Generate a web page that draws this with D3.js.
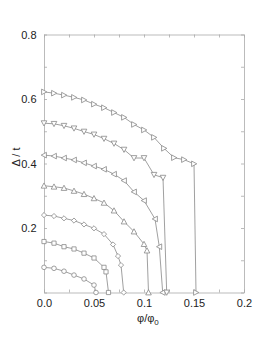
<!DOCTYPE html>
<html>
  <head>
    <title>Gap vs flux</title>
    <script src="https://d3js.org/d3.v7.min.js"></script>
    <style>
      body { margin: 0; background: white; }
      .axis text { font-family: "Liberation Sans", Arial, sans-serif; font-size: 11px; fill: #222; }
      .axis path, .axis line { stroke: #aaa; stroke-width: 0.8; }
      .series path.line { fill: none; stroke: #888; stroke-width: 0.8; }
      .series path.mark { fill: white; stroke: #888; stroke-width: 0.8; }
    </style>
  </head>
  <body>
    <svg width="270" height="348"></svg>
    <script>
      // flux values (phi/phi0) and gap values (Delta/t) for each curve, bottom to top
      var circlePhi = [0, 0.01, 0.02, 0.03, 0.04, 0.05, 0.052];
      var circleGap = [0.078, 0.075, 0.066, 0.054, 0.042, 0.023, 0];

      var squarePhi = [0, 0.01, 0.02, 0.03, 0.04, 0.05, 0.06, 0.062, 0.0645];
      var squareGap = [0.158, 0.153, 0.142, 0.135, 0.122, 0.107, 0.078, 0.064, 0];

      var diamondPhi = [0, 0.01, 0.02, 0.03, 0.04, 0.05, 0.06, 0.069, 0.074, 0.077, 0.0797];
      var diamondGap = [0.240, 0.237, 0.230, 0.223, 0.211, 0.199, 0.181, 0.149, 0.113, 0.085, 0];

      var upPhi = [0, 0.01, 0.02, 0.03, 0.04, 0.05, 0.06, 0.07, 0.08, 0.09, 0.10, 0.103, 0.1045];
      var upGap = [0.331, 0.328, 0.324, 0.315, 0.305, 0.292, 0.278, 0.254, 0.220, 0.189, 0.150, 0.130, 0];

      var leftPhi = [0, 0.01, 0.02, 0.03, 0.04, 0.05, 0.06, 0.07, 0.08, 0.09, 0.10, 0.111, 0.1153, 0.1187];
      var leftGap = [0.426, 0.423, 0.417, 0.411, 0.402, 0.392, 0.382, 0.367, 0.347, 0.312, 0.285, 0.228, 0.142, 0];

      var downPhi = [0, 0.01, 0.02, 0.03, 0.04, 0.05, 0.06, 0.07, 0.08, 0.09, 0.10, 0.11, 0.119, 0.1227];
      var downGap = [0.525, 0.523, 0.517, 0.509, 0.499, 0.490, 0.477, 0.462, 0.443, 0.417, 0.417, 0.365, 0.356, 0];

      var rightPhi = [0, 0.01, 0.02, 0.03, 0.04, 0.05, 0.06, 0.07, 0.08, 0.09, 0.10, 0.11, 0.12, 0.13, 0.14, 0.15, 0.152];
      var rightGap = [0.622, 0.618, 0.612, 0.605, 0.597, 0.584, 0.573, 0.558, 0.543, 0.521, 0.504, 0.481, 0.447, 0.418, 0.412, 0.399, 0];

      var xTicks = [0, 0.025, 0.05, 0.075, 0.1, 0.125, 0.15, 0.175, 0.2];
      var xLabels = { 0: "0.0", 0.05: "0.05", 0.1: "0.1", 0.15: "0.15", 0.2: "0.2" };
      var yTicks = [0, 0.1, 0.2, 0.3, 0.4, 0.5, 0.6, 0.7, 0.8];
      var yLabels = { 0.2: "0.2", 0.4: "0.4", 0.6: "0.6", 0.8: "0.8" };

      var series = [
        { shape: "circle", phi: circlePhi, gap: circleGap },
        { shape: "square", phi: squarePhi, gap: squareGap },
        { shape: "diamond", phi: diamondPhi, gap: diamondGap },
        { shape: "up", phi: upPhi, gap: upGap },
        { shape: "left", phi: leftPhi, gap: leftGap },
        { shape: "down", phi: downPhi, gap: downGap },
        { shape: "right", phi: rightPhi, gap: rightGap }
      ];

      var svg = d3.select("svg");
      var x = d3.scaleLinear().domain([0, 0.2]).range([44, 244]);
      var y = d3.scaleLinear().domain([0, 0.8]).range([292.5, 34.5]);

      // frame: ticks pointing inward on all four sides
      svg.append("g").attr("class", "axis")
        .attr("transform", "translate(0," + y(0) + ")")
        .call(d3.axisBottom(x).tickValues(xTicks).tickSizeInner(-3).tickSizeOuter(0).tickPadding(7)
          .tickFormat(function (d) { return xLabels[d] || ""; }));
      svg.append("g").attr("class", "axis")
        .attr("transform", "translate(0," + y(0.8) + ")")
        .call(d3.axisTop(x).tickValues(xTicks).tickSizeInner(-3).tickSizeOuter(0).tickFormat(""));
      svg.append("g").attr("class", "axis")
        .attr("transform", "translate(" + x(0) + ",0)")
        .call(d3.axisLeft(y).tickValues(yTicks).tickSizeInner(-3).tickSizeOuter(0).tickPadding(7.5)
          .tickFormat(function (d) { return yLabels[d] || ""; }));
      svg.append("g").attr("class", "axis")
        .attr("transform", "translate(" + x(0.2) + ",0)")
        .call(d3.axisRight(y).tickValues(yTicks).tickSizeInner(-3).tickSizeOuter(0).tickFormat(""));

      // axis titles
      svg.append("text")
        .attr("class", "axis")
        .attr("transform", "translate(20,157) rotate(-90)")
        .style("text-anchor", "middle")
        .style("font-family", "'Liberation Sans', Arial, sans-serif")
        .style("font-size", "11px")
        .style("fill", "#222")
        .text("\u0394 / t");
      var xt = svg.append("text")
        .attr("x", 137)
        .attr("y", 322)
        .style("font-family", "'Liberation Sans', Arial, sans-serif")
        .style("font-size", "11px")
        .style("fill", "#222");
      xt.append("tspan").text("\u03c6/\u03c6");
      xt.append("tspan").attr("dy", 3).style("font-size", "8px").text("0");

      // marker outlines
      function markPath(shape) {
        var a = 2.8, b = 2.4;
        switch (shape) {
          case "circle": return "M2.3,0A2.3,2.3 0 1,1 -2.3,0A2.3,2.3 0 1,1 2.3,0Z";
          case "square": return "M-2.1,-2.1H2.1V2.1H-2.1Z";
          case "diamond": return "M0,-2.6L2.6,0L0,2.6L-2.6,0Z";
          case "up": return "M0,-" + a + "L" + a + "," + b + "L-" + a + "," + b + "Z";
          case "down": return "M0," + a + "L" + a + ",-" + b + "L-" + a + ",-" + b + "Z";
          case "left": return "M-" + a + ",0L" + b + ",-" + a + "L" + b + "," + a + "Z";
          case "right": return "M" + a + ",0L-" + b + ",-" + a + "L-" + b + "," + a + "Z";
        }
      }

      var line = d3.line().x(function (d) { return x(d[0]); }).y(function (d) { return y(d[1]); });

      series.forEach(function (s) {
        var pts = s.phi.map(function (p, i) { return [p, s.gap[i]]; });
        var g = svg.append("g").attr("class", "series");
        g.append("path").attr("class", "line").attr("d", line(pts));
        g.selectAll("path.mark")
          .data(pts)
          .enter()
          .append("path")
          .attr("class", "mark")
          .attr("transform", function (d) { return "translate(" + x(d[0]) + "," + y(d[1]) + ")"; })
          .attr("d", markPath(s.shape));
      });
    </script>
  </body>
</html>
